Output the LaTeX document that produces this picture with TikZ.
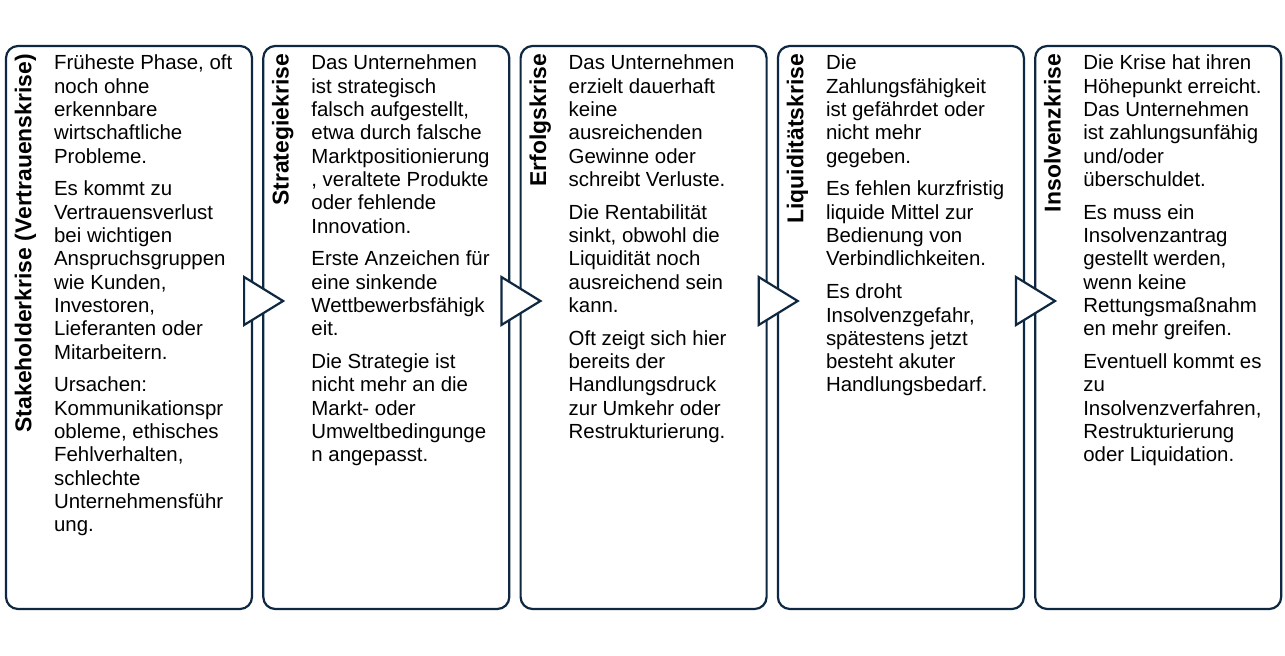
\documentclass[tikz,border=0pt]{standalone}
\usepackage{fontspec}
\setmainfont{Liberation Sans}
\usetikzlibrary{calc}

\definecolor{KrisenBlau}{HTML}{0E2841}

\tikzstyle{Kasten} = [draw=KrisenBlau, line width=2.2bp, rounded corners=12bp,
  minimum width=246bp, minimum height=563bp, inner sep=0, fill=white]
\tikzstyle{Titel} = [rotate=90, inner sep=0, text=black,
  font=\fontsize{23}{27}\selectfont\bfseries]
\tikzstyle{Inhalt} = [anchor=north west, inner sep=0, align=left, text=black,
  font=\fontsize{20.5}{23.4}\selectfont]
\tikzstyle{Spitze} = [draw=KrisenBlau, line width=2.2bp, fill=white, line join=miter]

\begin{document}
\begin{tikzpicture}[x=1bp, y=-1bp]
			\useasboundingbox (0,0) rectangle (1285,656);
			
			\node[Kasten] (b1) at (129,327.5) {};
			\node[Kasten] (b2) at (386.3,327.5) {};
			\node[Kasten] (b3) at (643.6,327.5) {};
			\node[Kasten] (b4) at (900.9,327.5) {};
			\node[Kasten] (b5) at (1158.2,327.5) {};
			
			% Dreiecke zwischen den Phasen
			\coordinate (s1) at ($(b1.east)+(-9,-26.5)$);
			\coordinate (s2) at ($(b2.east)+(-9,-26.5)$);
			\coordinate (s3) at ($(b3.east)+(-9,-26.5)$);
			\coordinate (s4) at ($(b4.east)+(-9,-26.5)$);
			\draw[Spitze] (s1) ++(0,-24) -- ++(39,24) -- ++(-39,24) -- cycle;
			\draw[Spitze] (s2) ++(0,-24) -- ++(39,24) -- ++(-39,24) -- cycle;
			\draw[Spitze] (s3) ++(0,-24) -- ++(39,24) -- ++(-39,24) -- cycle;
			\draw[Spitze] (s4) ++(0,-24) -- ++(39,24) -- ++(-39,24) -- cycle;
			
			\node[Titel, anchor=base east] (t1) at ($(b1.north west)+(26.5,9)$) {Stakeholderkrise (Vertrauenskrise)};
			\node[Titel, anchor=base east] (t2) at ($(b2.north west)+(26.5,9)$) {Strategiekrise};
			\node[Titel, anchor=base east] (t3) at ($(b3.north west)+(26.5,9)$) {Erfolgskrise};
			\node[Titel, anchor=base east] (t4) at ($(b4.north west)+(26.5,9)$) {Liquiditätskrise};
			\node[Titel, anchor=base east] (t5) at ($(b5.north west)+(26.5,9)$) {Insolvenzkrise};
			
			\node[Inhalt] (i1) at ($(b1.north west)+(49,10)$) {Früheste Phase, oft\\ noch ohne\\ erkennbare\\ wirtschaftliche\\ Probleme.\\[9.5bp]
				Es kommt zu\\ Vertrauensverlust\\ bei wichtigen\\ Anspruchsgruppen\\ wie Kunden,\\ Investoren,\\ Lieferanten oder\\ Mitarbeitern.\\[9.5bp]
				Ursachen:\\ Kommunikationspr\\ obleme, ethisches\\ Fehlverhalten,\\ schlechte\\ Unternehmensführ\\ ung.};
			\node[Inhalt] (i2) at ($(b2.north west)+(49,10)$) {Das Unternehmen\\ ist strategisch\\ falsch aufgestellt,\\ etwa durch falsche\\ Marktpositionierung\\ , veraltete Produkte\\ oder fehlende\\ Innovation.\\[9.5bp]
				Erste Anzeichen für\\ eine sinkende\\ Wettbewerbsfähigk\\ eit.\\[9.5bp]
				Die Strategie ist\\ nicht mehr an die\\ Markt- oder\\ Umweltbedingunge\\ n angepasst.};
			\node[Inhalt] (i3) at ($(b3.north west)+(49,10)$) {Das Unternehmen\\ erzielt dauerhaft\\ keine\\ ausreichenden\\ Gewinne oder\\ schreibt Verluste.\\[9.5bp]
				Die Rentabilität\\ sinkt, obwohl die\\ Liquidität noch\\ ausreichend sein\\ kann.\\[9.5bp]
				Oft zeigt sich hier\\ bereits der\\ Handlungsdruck\\ zur Umkehr oder\\ Restrukturierung.};
			\node[Inhalt] (i4) at ($(b4.north west)+(49,10)$) {Die\\ Zahlungsfähigkeit\\ ist gefährdet oder\\ nicht mehr\\ gegeben.\\[9.5bp]
				Es fehlen kurzfristig\\ liquide Mittel zur\\ Bedienung von\\ Verbindlichkeiten.\\[9.5bp]
				Es droht\\ Insolvenzgefahr,\\ spätestens jetzt\\ besteht akuter\\ Handlungsbedarf.};
			\node[Inhalt] (i5) at ($(b5.north west)+(49,10)$) {Die Krise hat ihren\\ Höhepunkt erreicht.\\ Das Unternehmen\\ ist zahlungsunfähig\\ und/oder\\ überschuldet.\\[9.5bp]
				Es muss ein\\ Insolvenzantrag\\ gestellt werden,\\ wenn keine\\ Rettungsmaßnahm\\ en mehr greifen.\\[9.5bp]
				Eventuell kommt es\\ zu\\ Insolvenzverfahren,\\ Restrukturierung\\ oder Liquidation.};
			\end{tikzpicture}
\end{document}
